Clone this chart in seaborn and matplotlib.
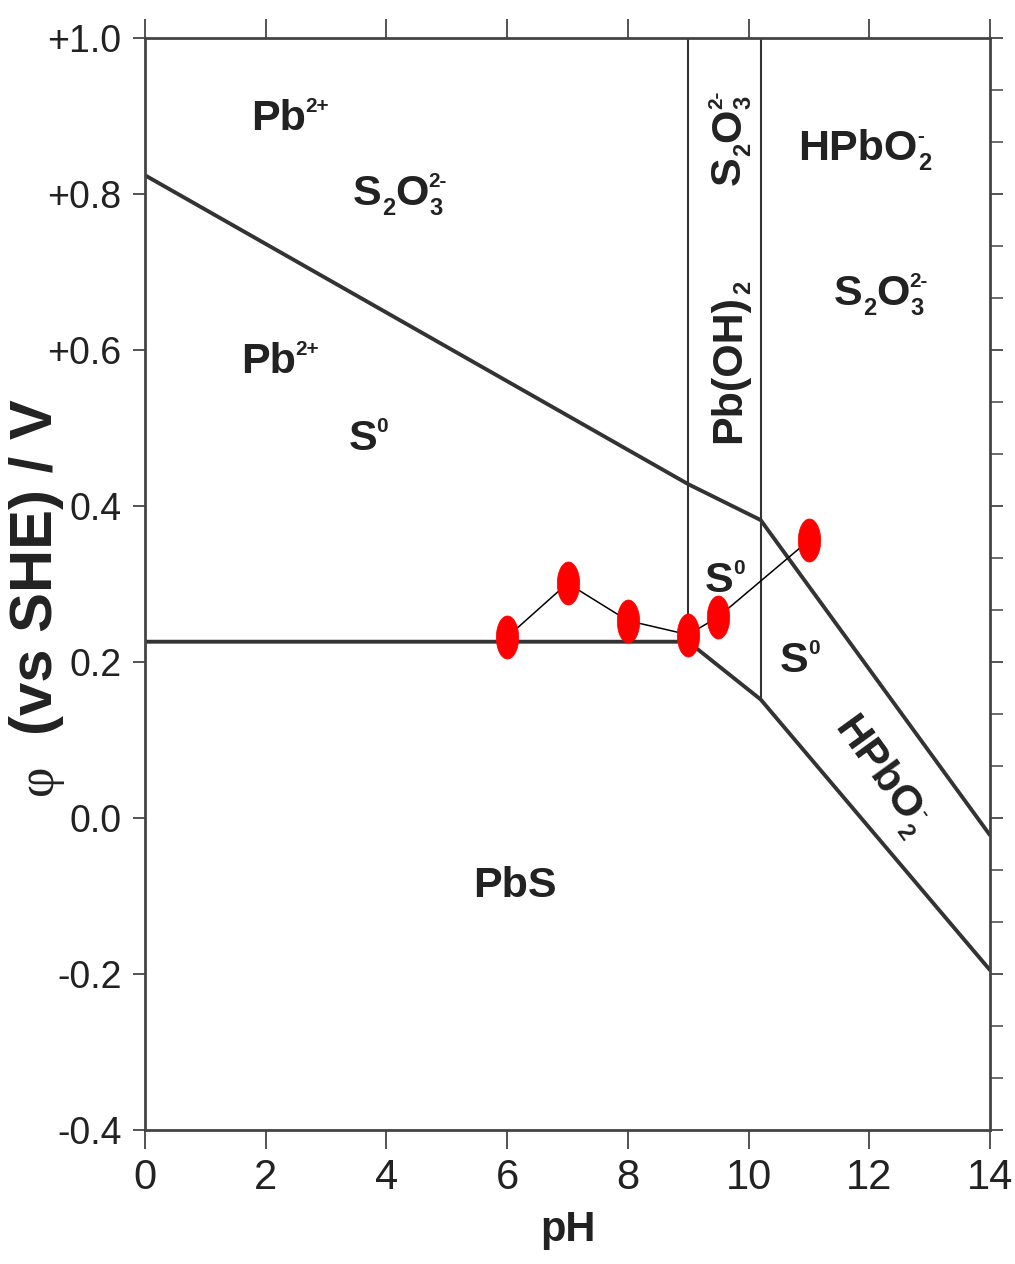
import numpy as np
import matplotlib
matplotlib.use("Agg")
import matplotlib.pyplot as plt
from matplotlib.path import Path
from matplotlib.ticker import FixedLocator
from matplotlib.transforms import offset_copy
import seaborn as sns

# Stability-field boundaries (pH, potential in V vs SHE)
upper_ph = [0.0, 9.0, 10.2, 14.0]
upper_v = [0.824, 0.428, 0.382, -0.022]
lower_ph = [0.0, 9.0, 10.2, 14.0]
lower_v = [0.226, 0.226, 0.152, -0.195]
left_wall_ph = [9.0, 9.0]
left_wall_v = [1.0, 0.226]
right_wall_ph = [10.2, 10.2]
right_wall_v = [1.0, 0.152]

# Measured rest potentials
meas_ph = [6.0, 7.0, 8.0, 9.0, 9.5, 11.0]
meas_v = [0.232, 0.301, 0.253, 0.235, 0.258, 0.356]

# Axis ticks
x_ticks = [0, 2, 4, 6, 8, 10, 12, 14]
x_tick_labels = ["0", "2", "4", "6", "8", "10", "12", "14"]
y_ticks = [-0.4, -0.2, 0.0, 0.2, 0.4, 0.6, 0.8, 1.0]
y_tick_labels = ["-0.4", "-0.2", "0.0", "0.2", "0.4", "+0.6", "+0.8", "+1.0"]

# Species formulas as (symbol, subscript, superscript) groups
PB2 = [("Pb", "", "2+")]
THIO = [("S", "2", ""), ("O", "3", "2-")]
SULFUR = [("S", "", "0")]
GALENA = [("PbS", "", "")]
PLUMBITE = [("HPbO", "2", "-")]
HYDROXIDE = [("Pb(OH)", "2", "")]

# Field labels: (formula, pH, potential of baseline centre, rotation)
field_labels = [
    (PB2, 2.40, 0.882, 0),
    (THIO, 4.22, 0.786, 0),
    (PB2, 2.24, 0.570, 0),
    (SULFUR, 3.70, 0.472, 0),
    (GALENA, 6.13, -0.101, 0),
    (PLUMBITE, 11.92, 0.844, 0),
    (THIO, 12.19, 0.658, 0),
    (SULFUR, 9.61, 0.290, 0),
    (SULFUR, 10.85, 0.187, 0),
    (HYDROXIDE, 9.86, 0.585, 90),
    (THIO, 9.86, 0.872, 90),
    (PLUMBITE, 12.05, 0.046, -54),
]

sns.set_theme(style="ticks")
plt.rcParams["font.family"] = ["Liberation Sans", "DejaVu Sans"]
plt.rcParams["axes.unicode_minus"] = False

INK = "#222222"
LINE = "#333333"
AXIS = "#444444"
LABEL_SIZE = 31

fig = plt.figure(figsize=(10.15, 12.64), dpi=100, facecolor="white")
ax = fig.add_axes([145 / 1015, 1 - 1130 / 1264, 845 / 1015, 1092 / 1264])
ax.set_facecolor("white")
ax.set_xlim(0, 14)
ax.set_ylim(-0.4, 1.0)

# Boundaries between the stability fields
for xs, ys, lw in [
    (upper_ph, upper_v, 2.8),
    (lower_ph, lower_v, 2.8),
    (left_wall_ph, left_wall_v, 1.5),
    (right_wall_ph, right_wall_v, 1.5),
]:
    sns.lineplot(x=xs, y=ys, ax=ax, sort=False, estimator=None,
                 color=LINE, linewidth=lw, zorder=2)

# Elliptical red marker
theta = np.linspace(0, 2 * np.pi, 64)
ellipse = Path(np.column_stack([0.52 * np.cos(theta), np.sin(theta)]), closed=True)

sns.lineplot(x=meas_ph, y=meas_v, ax=ax, sort=False, estimator=None,
             color="black", linewidth=1.1, marker=ellipse, markersize=31,
             markerfacecolor="#ff0000", markeredgecolor="#ff0000",
             markeredgewidth=0.5, zorder=4)

renderer = fig.canvas.get_renderer()


def text_width(s, size):
    if not s:
        return 0.0
    t = ax.text(0, 0, s, fontsize=size, fontweight="bold")
    w = t.get_window_extent(renderer).width
    t.remove()
    return w


def formula(x, y, groups, size, rotation=0):
    """Write a chemical formula centred on (x, y) with small sub/superscripts."""
    em = size * fig.dpi / 72
    sub_size, sup_size = size * 0.55, size * 0.48
    pieces = []
    adv = 0.0
    for base, sub, sup in groups:
        pieces.append((base, size, adv, 0.0))
        adv += text_width(base, size)
        w_sub = w_sup = 0.0
        if sub:
            pieces.append((sub, sub_size, adv + 0.01 * em, -0.24 * em))
            w_sub = text_width(sub, sub_size) + 0.01 * em
        if sup:
            pieces.append((sup, sup_size, adv - 0.01 * em, 0.42 * em))
            w_sup = text_width(sup, sup_size) - 0.01 * em
        adv += max(w_sub, w_sup)
    start = -adv / 2
    c, s = np.cos(np.radians(rotation)), np.sin(np.radians(rotation))
    for txt, fs, dx, dy in pieces:
        dx += start
        tr = offset_copy(ax.transData, fig=fig, x=dx * c - dy * s,
                         y=dx * s + dy * c, units="dots")
        ax.text(x, y, txt, transform=tr, fontsize=fs, fontweight="bold",
                color=INK, rotation=rotation, rotation_mode="anchor",
                ha="left", va="baseline", zorder=3)


for groups, px, py, rot in field_labels:
    formula(px, py, groups, LABEL_SIZE, rot)

ax.set_xticks(x_ticks)
ax.set_xticklabels(x_tick_labels, fontsize=30, color=INK)
ax.set_yticks(y_ticks)
ax.set_yticklabels(y_tick_labels, fontsize=27, color=INK)
ax.yaxis.set_minor_locator(FixedLocator(np.linspace(-0.4, 1.0, 22)))

ax.tick_params(axis="x", which="major", direction="out", length=14, width=1.3,
               color=AXIS, top=True, bottom=True, pad=6)
ax.tick_params(axis="y", which="major", direction="out", length=9, width=1.3,
               color=AXIS, left=True, right=True, pad=8)
ax.tick_params(axis="y", which="minor", direction="out", length=9, width=1.1,
               color=AXIS, left=False, right=True)

for side, spine in ax.spines.items():
    spine.set_visible(True)
    spine.set_color(AXIS)
    spine.set_linewidth(2.0)

ax.set_xlabel("pH", fontsize=30, fontweight="bold", color=INK)
ax.xaxis.set_label_coords(0.5, -0.073)

ax.set_ylabel("(vs SHE) / V", fontsize=43, fontweight="bold", color=INK)
ax.yaxis.label.set_va("center")
ax.yaxis.set_label_coords(-0.128, 0.515)
ax.text(-0.126, 0.321, "φ", transform=ax.transAxes, rotation=90,
        rotation_mode="anchor", ha="center", va="center", fontsize=38,
        color=INK, family=["Liberation Serif", "DejaVu Serif"])

fig.savefig("out.png", dpi=100, facecolor="white")
